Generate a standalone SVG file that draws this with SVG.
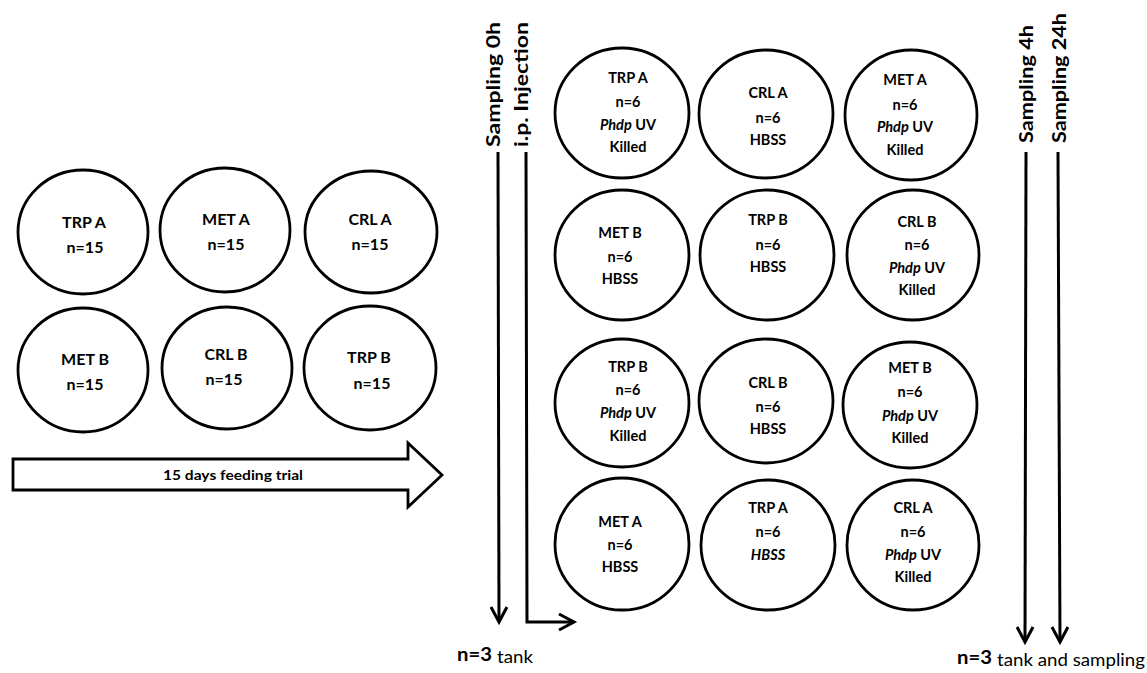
<svg xmlns="http://www.w3.org/2000/svg" width="1147" height="673" viewBox="0 0 1147 673">
<style>
.c{fill:#fff;stroke:#000;stroke-width:2.8}
.t{font-family:Lato,"Liberation Sans",sans-serif;font-weight:bold;font-size:14.5px;fill:#000;text-anchor:middle}
.tl{font-family:Lato,"Liberation Sans",sans-serif;font-weight:bold;font-size:16px;fill:#000;text-anchor:middle}
.i{font-style:italic}
.v{font-family:Lato,"Liberation Sans",sans-serif;font-weight:bold;font-size:18px;fill:#000}
.ln{fill:none;stroke:#000;stroke-width:3}
.n3{font-family:Lato,"Liberation Sans",sans-serif;font-weight:bold;font-size:19px;fill:#000}
.sm{font-family:Lato,"Liberation Sans",sans-serif;font-size:17px;fill:#000}
</style>
<defs>
<marker id="chev" markerUnits="userSpaceOnUse" markerWidth="24" markerHeight="24" viewBox="-18 -12 24 24" refX="0" refY="0" orient="auto">
<path d="M-15,-8 L0,0 L-15,8" fill="none" stroke="#000" stroke-width="3"/>
</marker>
</defs>
<rect width="1147" height="673" fill="#fff"/>

<g id="l-trpA"><ellipse class="c" cx="83" cy="232" rx="65" ry="62"/><text class="tl" x="84" y="228">TRP  A</text><text class="tl" x="85" y="253">n=15</text></g>
<g id="l-metA"><ellipse class="c" cx="225" cy="230" rx="65" ry="62"/><text class="tl" x="226" y="225">MET A</text><text class="tl" x="226" y="250">n=15</text></g>
<g id="l-crlA"><ellipse class="c" cx="371" cy="232" rx="66" ry="61"/><text class="tl" x="370" y="225">CRL A</text><text class="tl" x="370" y="250">n=15</text></g>
<g id="l-metB"><ellipse class="c" cx="83" cy="370" rx="65" ry="62"/><text class="tl" x="85" y="365">MET B</text><text class="tl" x="85" y="390">n=15</text></g>
<g id="l-crlB"><ellipse class="c" cx="227" cy="368" rx="65" ry="61"/><text class="tl" x="226" y="360">CRL B</text><text class="tl" x="224" y="385">n=15</text></g>
<g id="l-trpB"><ellipse class="c" cx="370" cy="368" rx="66" ry="62"/><text class="tl" x="369" y="363">TRP  B</text><text class="tl" x="372" y="389">n=15</text></g>

<g id="feeding-arrow">
<path d="M13,459 L408,459 L408,443 L442,475 L408,507 L408,490 L13,490 Z" fill="#fff" stroke="#000" stroke-width="2.8"/>
<text class="t" x="233" y="480" style="font-size:13.5px" textLength="140" lengthAdjust="spacingAndGlyphs">15 days feeding trial</text>
</g>

<g id="r1-trpA"><ellipse class="c" cx="622" cy="113" rx="67" ry="65"/><text class="t" x="628" y="83">TRP A</text><text class="t" x="628" y="107">n=6</text><text class="t" x="628" y="130"><tspan class="i">Phdp</tspan> UV</text><text class="t" x="628" y="152">Killed</text></g>
<g id="r1-crlA"><ellipse class="c" cx="766" cy="114" rx="67" ry="64"/><text class="t" x="768" y="98">CRL A</text><text class="t" x="768" y="123">n=6</text><text class="t" x="768" y="145">HBSS</text></g>
<g id="r1-metA"><ellipse class="c" cx="911" cy="115" rx="66" ry="65"/><text class="t" x="905" y="85">MET A</text><text class="t" x="905" y="110">n=6</text><text class="t" x="905" y="132"><tspan class="i">Phdp</tspan> UV</text><text class="t" x="905" y="155">Killed</text></g>

<g id="r2-metB"><ellipse class="c" cx="622" cy="255" rx="67" ry="65"/><text class="t" x="620" y="238">MET B</text><text class="t" x="620" y="262">n=6</text><text class="t" x="620" y="284">HBSS</text></g>
<g id="r2-trpB"><ellipse class="c" cx="767" cy="255" rx="67" ry="65"/><text class="t" x="768" y="225">TRP B</text><text class="t" x="768" y="250">n=6</text><text class="t" x="768" y="272">HBSS</text></g>
<g id="r2-crlB"><ellipse class="c" cx="913" cy="255" rx="66" ry="65"/><text class="t" x="917" y="227">CRL B</text><text class="t" x="917" y="250">n=6</text><text class="t" x="917" y="273"><tspan class="i">Phdp</tspan> UV</text><text class="t" x="917" y="295">Killed</text></g>

<g id="r3-trpB"><ellipse class="c" cx="622" cy="403" rx="67" ry="64"/><text class="t" x="628" y="372">TRP B</text><text class="t" x="628" y="395">n=6</text><text class="t" x="628" y="418"><tspan class="i">Phdp</tspan> UV</text><text class="t" x="628" y="441">Killed</text></g>
<g id="r3-crlB"><ellipse class="c" cx="766" cy="401" rx="67" ry="62"/><text class="t" x="768" y="388">CRL B</text><text class="t" x="768" y="412">n=6</text><text class="t" x="768" y="434">HBSS</text></g>
<g id="r3-metB"><ellipse class="c" cx="910" cy="405" rx="67" ry="63"/><text class="t" x="910" y="373">MET B</text><text class="t" x="910" y="397">n=6</text><text class="t" x="910" y="421"><tspan class="i">Phdp</tspan> UV</text><text class="t" x="910" y="443">Killed</text></g>

<g id="r4-metA"><ellipse class="c" cx="622" cy="544" rx="67" ry="66"/><text class="t" x="620" y="527">MET A</text><text class="t" x="620" y="550">n=6</text><text class="t" x="620" y="572">HBSS</text></g>
<g id="r4-trpA"><ellipse class="c" cx="768" cy="545" rx="67" ry="65"/><text class="t" x="768" y="513">TRP A</text><text class="t" x="768" y="537">n=6</text><text class="t i" x="768" y="560">HBSS</text></g>
<g id="r4-crlA"><ellipse class="c" cx="913" cy="545" rx="66" ry="65"/><text class="t" x="913" y="513">CRL A</text><text class="t" x="913" y="537">n=6</text><text class="t" x="913" y="560"><tspan class="i">Phdp</tspan> UV</text><text class="t" x="913" y="582">Killed</text></g>

<g id="connectors">
<line class="ln" x1="498" y1="152" x2="499" y2="622" marker-end="url(#chev)"/>
<polyline class="ln" points="526,152 527,622 574,622" marker-end="url(#chev)"/>
<line class="ln" x1="1026" y1="152" x2="1025" y2="642" marker-end="url(#chev)"/>
<line class="ln" x1="1058" y1="152" x2="1060" y2="642" marker-end="url(#chev)"/>
</g>

<g id="labels">
<text class="v" transform="translate(500,147) rotate(-90)" textLength="125" lengthAdjust="spacingAndGlyphs">Sampling 0h</text>
<text class="v" transform="translate(528,147) rotate(-90)" textLength="125" lengthAdjust="spacingAndGlyphs">i.p. Injection</text>
<text class="v" transform="translate(1033,143) rotate(-90)" textLength="118" lengthAdjust="spacingAndGlyphs">Sampling 4h</text>
<text class="v" transform="translate(1066,143) rotate(-90)" textLength="130" lengthAdjust="spacingAndGlyphs">Sampling 24h</text>
<text class="n3" x="457" y="661" textLength="35" lengthAdjust="spacingAndGlyphs">n=3</text><text class="sm" x="497" y="663" textLength="36" lengthAdjust="spacingAndGlyphs">tank</text>
<text class="n3" x="957" y="664" textLength="35" lengthAdjust="spacingAndGlyphs">n=3</text><text class="sm" x="997" y="666" textLength="148" lengthAdjust="spacingAndGlyphs">tank and sampling</text>
</g>
</svg>
